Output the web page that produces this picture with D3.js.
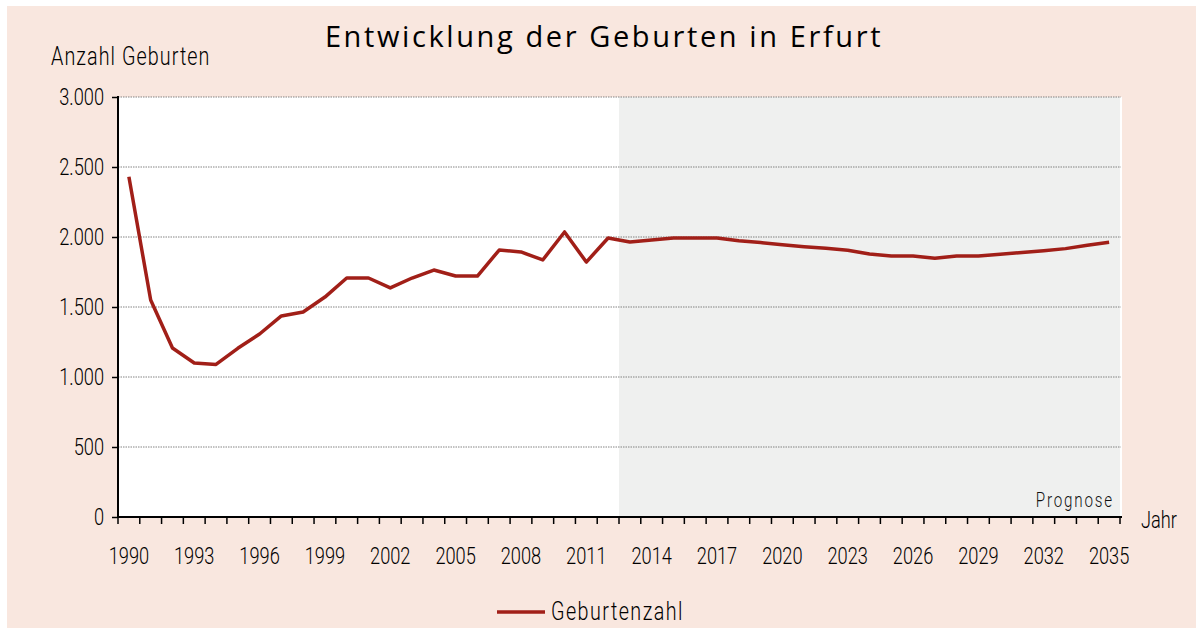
<!DOCTYPE html>
<html>
<head>
<meta charset="utf-8">
<script src="https://cdn.jsdelivr.net/npm/d3@7"></script>
<style>
  body { margin: 0; background: #fff; }
  svg { display: block; }
  .cond { font-family: Roboto, "DejaVu Sans Condensed", sans-serif; font-weight: 300; }
</style>
</head>
<body>
<svg width="1196" height="628"></svg>
<script>
const width = 1196;
const height = 628;
const sx = 0.76; // horizontale Stauchung fuer die schmale Schrift

// Jahre und Geburtenzahlen (bis 2012 Ist, ab 2013 Prognose)
const years = d3.range(1990, 2036);
const births = [
  2430, 1550, 1207, 1100, 1090, 1205, 1307, 1436, 1464, 1571,
  1707, 1707, 1636, 1707, 1764, 1721, 1721, 1907, 1893, 1836,
  2036, 1821, 1993, 1964, 1979, 1993, 1993, 1993, 1974, 1960,
  1945, 1931, 1919, 1905, 1879, 1864, 1864, 1848, 1864, 1864,
  1876, 1890, 1902, 1917, 1941, 1962
];
const yTicks = [0, 500, 1000, 1500, 2000, 2500, 3000];
const xLabelYears = d3.range(1990, 2036, 3);
const forecastStart = 2013;

const fmt = d3.formatLocale({decimal: ",", thousands: ".", grouping: [3], currency: ["", "€"]}).format(",");

const margin = {left: 118, right: 76, top: 97, bottom: 111};
const plotW = width - margin.left - margin.right;
const plotH = height - margin.top - margin.bottom;

const svg = d3.select('svg');
svg.append('rect').attr('x', 7).attr('y', 6).attr('width', width - 7).attr('height', height - 6).attr('fill', '#f9e7df');

const x = d3.scaleBand().domain(years).range([0, plotW]);
const y = d3.scaleLinear().domain([0, 3000]).range([plotH, 0]);

const g = svg.append('g').attr('transform', `translate(${margin.left},${margin.top})`);

g.append('rect').attr('width', plotW + 2).attr('height', plotH).attr('fill', '#fff');
g.append('rect')
  .attr('x', x(forecastStart)).attr('y', 0)
  .attr('width', plotW - x(forecastStart)).attr('height', plotH)
  .attr('fill', '#eff0ef');

// Gitterlinien
g.append('g').selectAll('line').data(yTicks.filter(d => d > 0)).join('line')
  .attr('x1', 0).attr('x2', plotW + 1)
  .attr('y1', d => y(d)).attr('y2', d => y(d))
  .attr('stroke', '#666').attr('stroke-width', 0.8).attr('stroke-dasharray', '1.5,1');

// Y-Achse
const yAxis = g.append('g').attr('class', 'cond')
  .call(d3.axisLeft(y).tickValues(yTicks).tickFormat(fmt).tickSize(6).tickPadding(8));
yAxis.select('.domain').attr('stroke', '#000').attr('stroke-width', 2).attr('d', `M0,-1V${plotH}`);
yAxis.selectAll('.tick line').attr('stroke', '#000').attr('stroke-width', 1.5);
yAxis.selectAll('text').attr('font-size', 24).attr('fill', '#000').attr('font-family', null)
  .attr('x', -14 / sx).attr('transform', `scale(${sx},1)`);

// X-Achse
const xAxis = g.append('g').attr('class', 'cond').attr('transform', `translate(0,${plotH})`);
xAxis.append('line').attr('x1', 0).attr('x2', plotW + 2).attr('stroke', '#000').attr('stroke-width', 2);
xAxis.selectAll('.tk').data(years.concat([2036])).join('line')
  .attr('x1', d => d === 2036 ? plotW : x(d)).attr('x2', d => d === 2036 ? plotW : x(d))
  .attr('y1', 0).attr('y2', 7)
  .attr('stroke', '#000').attr('stroke-width', 1.5);
xAxis.selectAll('text').data(xLabelYears).join('text')
  .attr('x', d => (x(d) + x.bandwidth() / 2) / sx).attr('y', 47)
  .attr('transform', `scale(${sx},1)`)
  .attr('text-anchor', 'middle').attr('font-size', 24).attr('fill', '#000')
  .text(d => d);

// Linie
const line = d3.line()
  .x((d, i) => x(years[i]) + x.bandwidth() / 2)
  .y(d => y(d));
g.append('path').datum(births)
  .attr('d', line)
  .attr('fill', 'none').attr('stroke', '#a11f18').attr('stroke-width', 3.5)
  .attr('stroke-linejoin', 'round');

// Beschriftungen
function condText(parent, tx, ty, size, str, anchor, spacing) {
  return parent.append('text').attr('class', 'cond')
    .attr('transform', `translate(${tx},${ty}) scale(${sx},1)`)
    .attr('text-anchor', anchor || 'start').attr('font-size', size)
    .attr('letter-spacing', spacing || 0).attr('fill', '#000').text(str);
}
condText(g, plotW - 6, plotH - 10, 20, 'Prognose', 'end', 2.4).attr('fill', '#111');
condText(svg, 1141, 528, 24, 'Jahr');
condText(svg, 51, 65, 26, 'Anzahl Geburten', 'start', 1.4);

svg.append('text').attr('x', 604).attr('y', 47)
  .attr('text-anchor', 'middle').attr('font-size', 29).attr('letter-spacing', 2.6)
  .attr('font-family', '"Open Sans", "Noto Sans", sans-serif').attr('fill', '#000')
  .text('Entwicklung der Geburten in Erfurt');

// Legende
const leg = svg.append('g').attr('transform', 'translate(497,612)');
leg.append('line').attr('x1', 0).attr('x2', 48).attr('stroke', '#a11f18').attr('stroke-width', 3.5);
condText(leg, 54, 8, 26, 'Geburtenzahl', 'start', 1.9);
</script>
</body>
</html>
